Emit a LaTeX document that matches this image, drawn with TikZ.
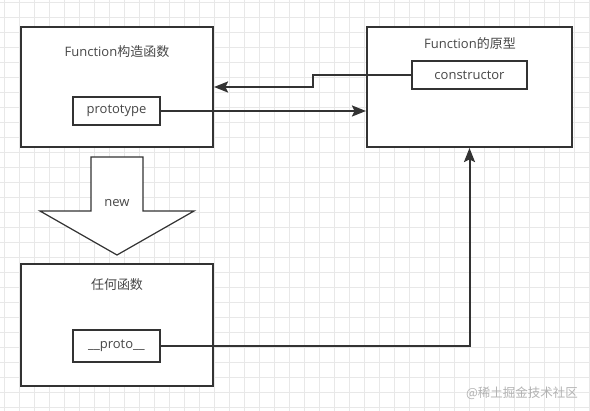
\documentclass[tikz,border=0pt]{standalone}
\usepackage{fontspec}
\setmainfont{Open Sans}
\newfontfamily\cjk{Noto Sans CJK SC}
\usetikzlibrary{arrows.meta}
\definecolor{ink}{HTML}{333333}
\definecolor{gridgray}{HTML}{E8E8E8}
\tikzset{
  box/.style={draw=ink, line width=2pt, fill=white, inner sep=0pt},
  slot/.style={box, minimum width=87pt, minimum height=28pt, font=\fontsize{13}{15}\selectfont, text=ink!90},
  title/.style={font=\fontsize{13}{15}\selectfont, text=ink!90},
  link/.style={draw=ink, line width=2pt, -{Stealth[length=14pt,width=11pt,inset=2.5pt]}}
}
\begin{document}
\begin{tikzpicture}[x=1pt, y=-1pt]
\useasboundingbox (0,0) rectangle (590,411);
\fill[white] (0,0) rectangle (590,411);
% background grid
\foreach \gx in {0,...,39} \draw[gridgray, line width=0.8pt] (4.3+15*\gx,0) -- (4.3+15*\gx,411);
\foreach \gy in {0,...,27} \draw[gridgray, line width=0.8pt] (0,2.3+15*\gy) -- (590,2.3+15*\gy);
% the three objects
\node[box, minimum width=192pt, minimum height=120pt] (fnbox) at (117,87) {};
\node[box, minimum width=205pt, minimum height=120pt] (pbox) at (469.5,87) {};
\node[box, minimum width=192pt, minimum height=122pt] (anybox) at (117,325) {};
\node[title] (fntitle) at (117,52) {Function{\cjk 构造函数}};
\node[title] (ptitle) at (470,44) {Function{\cjk 的原型}};
\node[title] (anytitle) at (117,285) {\cjk 任何函数};
\node[slot] (proto) at (116.5,111) {prototype};
\node[slot, minimum width=115pt] (ctor) at (469.5,75) {constructor};
\node[slot, minimum height=32pt] (dproto) at (116.5,346) {\_\_proto\_\_};
% new arrow
\draw[draw=ink, line width=1.2pt, fill=white, line join=miter] (91,157) -- (143,157) -- (143,211) -- (194,211)
  -- (117,255) -- (40,211) -- (91,211) -- cycle;
\node[title] (new) at (117,203) {new};
% links
\coordinate (bend) at (313,75);
\draw[link] (ctor.west) -- (bend) |- (fnbox.east);
\draw[link] (proto.east) -- (proto.east -| pbox.west);
\draw[link] (dproto.east) -| (pbox.south);
\node[font=\cjk\fontsize{12.5}{14}\selectfont, text=black!30] (mark) at (522,393) {@稀土掘金技术社区};
\end{tikzpicture}
\end{document}
